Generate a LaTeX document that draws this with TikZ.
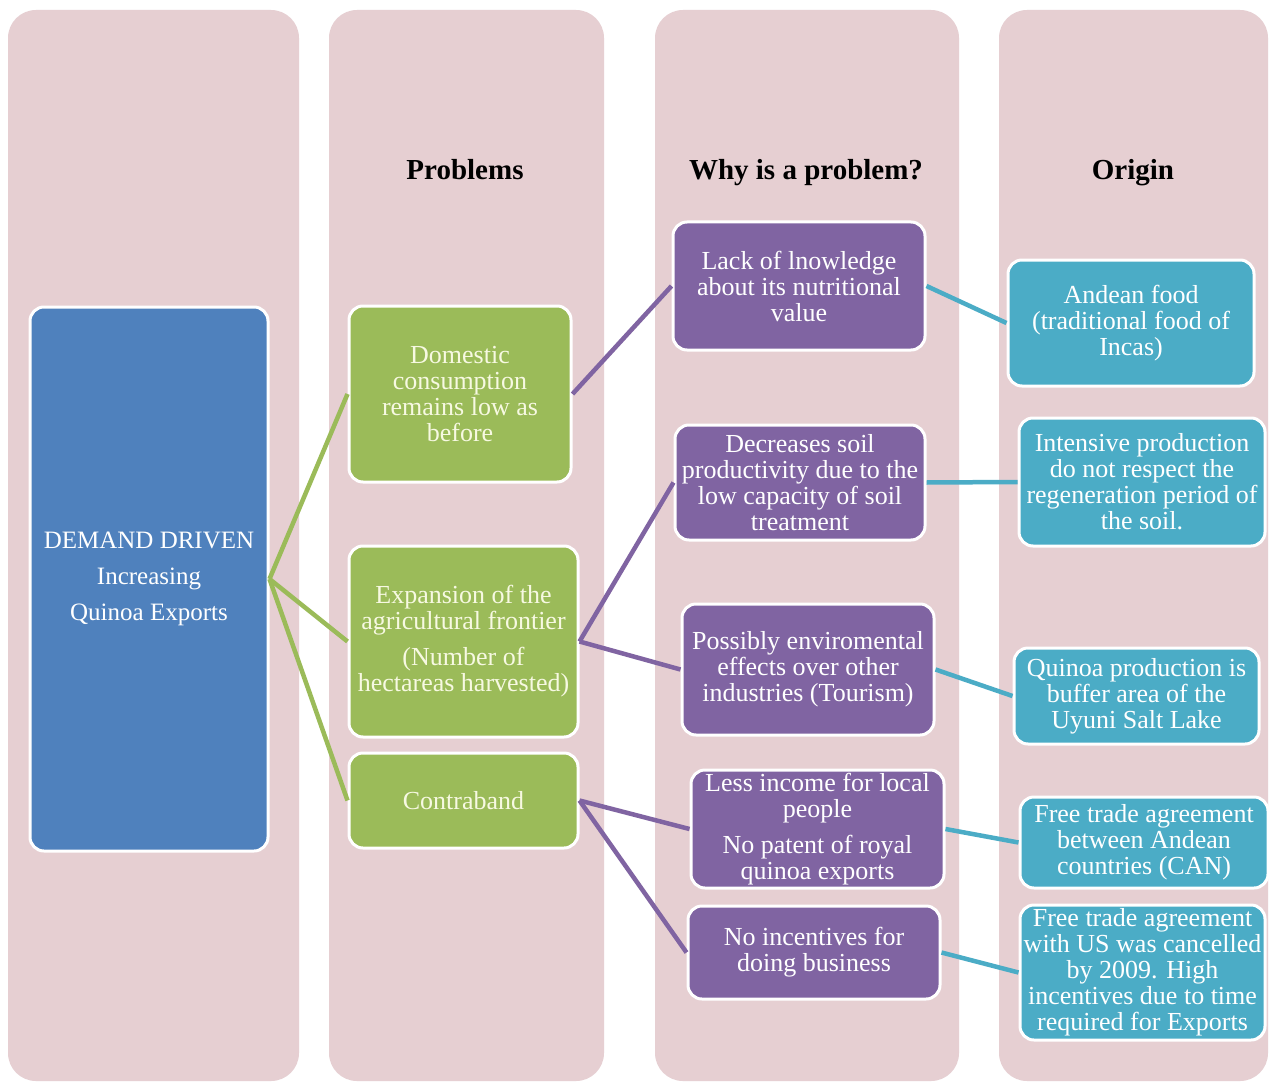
\documentclass[tikz,border=0pt]{standalone}
\usepackage{fontspec}
\setmainfont{Liberation Serif}
\definecolor{lanepink}{HTML}{E6CFD2}
\definecolor{mainblue}{HTML}{4F81BD}
\definecolor{probgreen}{HTML}{9BBB59}
\definecolor{whypurple}{HTML}{8064A2}
\definecolor{origteal}{HTML}{4BACC6}
\definecolor{textcream}{HTML}{F7F9E2}

\begin{document}
\begin{tikzpicture}[x=1pt, y=-1pt,
    lane/.style={fill=lanepink, rounded corners=28pt},
    head/.style={anchor=base, font=\fontsize{29}{32}\selectfont\bfseries},
    card/.style={draw=white, line width=3pt, rounded corners=14pt,
                 align=center, inner sep=0pt, text=white,
                 font=\fontsize{26}{26}\selectfont},
    mainbox/.style={card, fill=mainblue, font=\fontsize{25}{26}\selectfont},
    probbox/.style={card, fill=probgreen, text=textcream},
    whybox/.style={card, fill=whypurple},
    origbox/.style={card, fill=origteal},
    greenlink/.style={draw=probgreen, line width=4.5pt},
    purplelink/.style={draw=whypurple, line width=4.5pt},
    teallink/.style={draw=origteal, line width=4.5pt},
]
    \useasboundingbox[fill=white] (0, 0) rectangle (1273, 1083);

    % background lanes
    \fill[lane] (8, 10) rectangle (299, 1081);
    \fill[lane] (329, 10) rectangle (604, 1081);
    \fill[lane] (655, 10) rectangle (959, 1081);
    \fill[lane] (999, 10) rectangle (1268, 1081);

    \node[head] (hprob) at (465, 180) {Problems};
    \node[head] (hwhy) at (806, 180) {Why is a problem?};
    \node[head] (horig) at (1133, 180) {Origin};

    % driver
    \node[mainbox, minimum width=238pt, minimum height=544pt] (demand) at (149, 579)
        {DEMAND DRIVEN\\[10pt]Increasing\\[10pt]Quinoa Exports};

    % problems
    \node[probbox, minimum width=222pt, minimum height=176pt] (domestic) at (460, 394)
        {Domestic\\consumption\\remains low as\\before};
    \node[probbox, minimum width=229pt, minimum height=191pt] (frontier) at (463.5, 641.5)
        {Expansion of the\\agricultural frontier\\[10pt](Number of\\hectareas harvested)};
    \node[probbox, minimum width=229pt, minimum height=95pt] (contraband) at (463.5, 800.5)
        {Contraband};

    % why is a problem
    \node[whybox, minimum width=252pt, minimum height=128pt] (knowledge) at (799, 286)
        {Lack of lnowledge\\about its nutritional\\value};
    \node[whybox, minimum width=250pt, minimum height=115pt] (soil) at (800, 482.5)
        {Decreases soil\\productivity due to the\\low capacity of soil\\treatment};
    \node[whybox, minimum width=252pt, minimum height=131pt] (tourism) at (808, 669.5)
        {Possibly enviromental\\effects over other\\industries (Tourism)};
    \node[whybox, minimum width=253pt, minimum height=118pt] (income) at (817.5, 829)
        {Less income for local\\people\\[10pt]No patent of royal\\quinoa exports};
    \node[whybox, minimum width=252pt, minimum height=93pt] (business) at (814, 952.5)
        {No incentives for\\doing business};

    % origin
    \node[origbox, minimum width=246pt, minimum height=126pt] (andean) at (1131, 323)
        {Andean food\\(traditional food of\\Incas)};
    \node[origbox, minimum width=246pt, minimum height=128pt] (intensive) at (1142, 482)
        {Intensive production\\do not respect the\\regeneration period of\\the soil.};
    \node[origbox, minimum width=245pt, minimum height=96pt] (uyuni) at (1136.5, 696)
        {Quinoa production is\\buffer area of the\\Uyuni Salt Lake};
    \node[origbox, minimum width=248pt, minimum height=91pt] (can) at (1144, 842.5)
        {Free trade agreement\\between Andean\\countries (CAN)};
    \node[origbox, minimum width=245pt, minimum height=135pt] (usfta) at (1142.5, 972.5)
        {Free trade agreement\\with US was cancelled\\by 2009. High\\incentives due to time\\required for Exports};

    \draw[greenlink] (demand.east) -- (domestic.west);
    \draw[greenlink] (demand.east) -- (frontier.west);
    \draw[greenlink] (demand.east) -- (contraband.west);

    \draw[purplelink] (domestic.east) -- (knowledge.west);
    \draw[purplelink] (frontier.east) -- (soil.west);
    \draw[purplelink] (frontier.east) -- (tourism.west);
    \draw[purplelink] (contraband.east) -- (income.west);
    \draw[purplelink] (contraband.east) -- (business.west);

    \draw[teallink] (knowledge.east) -- (andean.west);
    \draw[teallink] (soil.east) -- (intensive.west);
    \draw[teallink] (tourism.east) -- (uyuni.west);
    \draw[teallink] (income.east) -- (can.west);
    \draw[teallink] (business.east) -- (usfta.west);
\end{tikzpicture}
\end{document}
